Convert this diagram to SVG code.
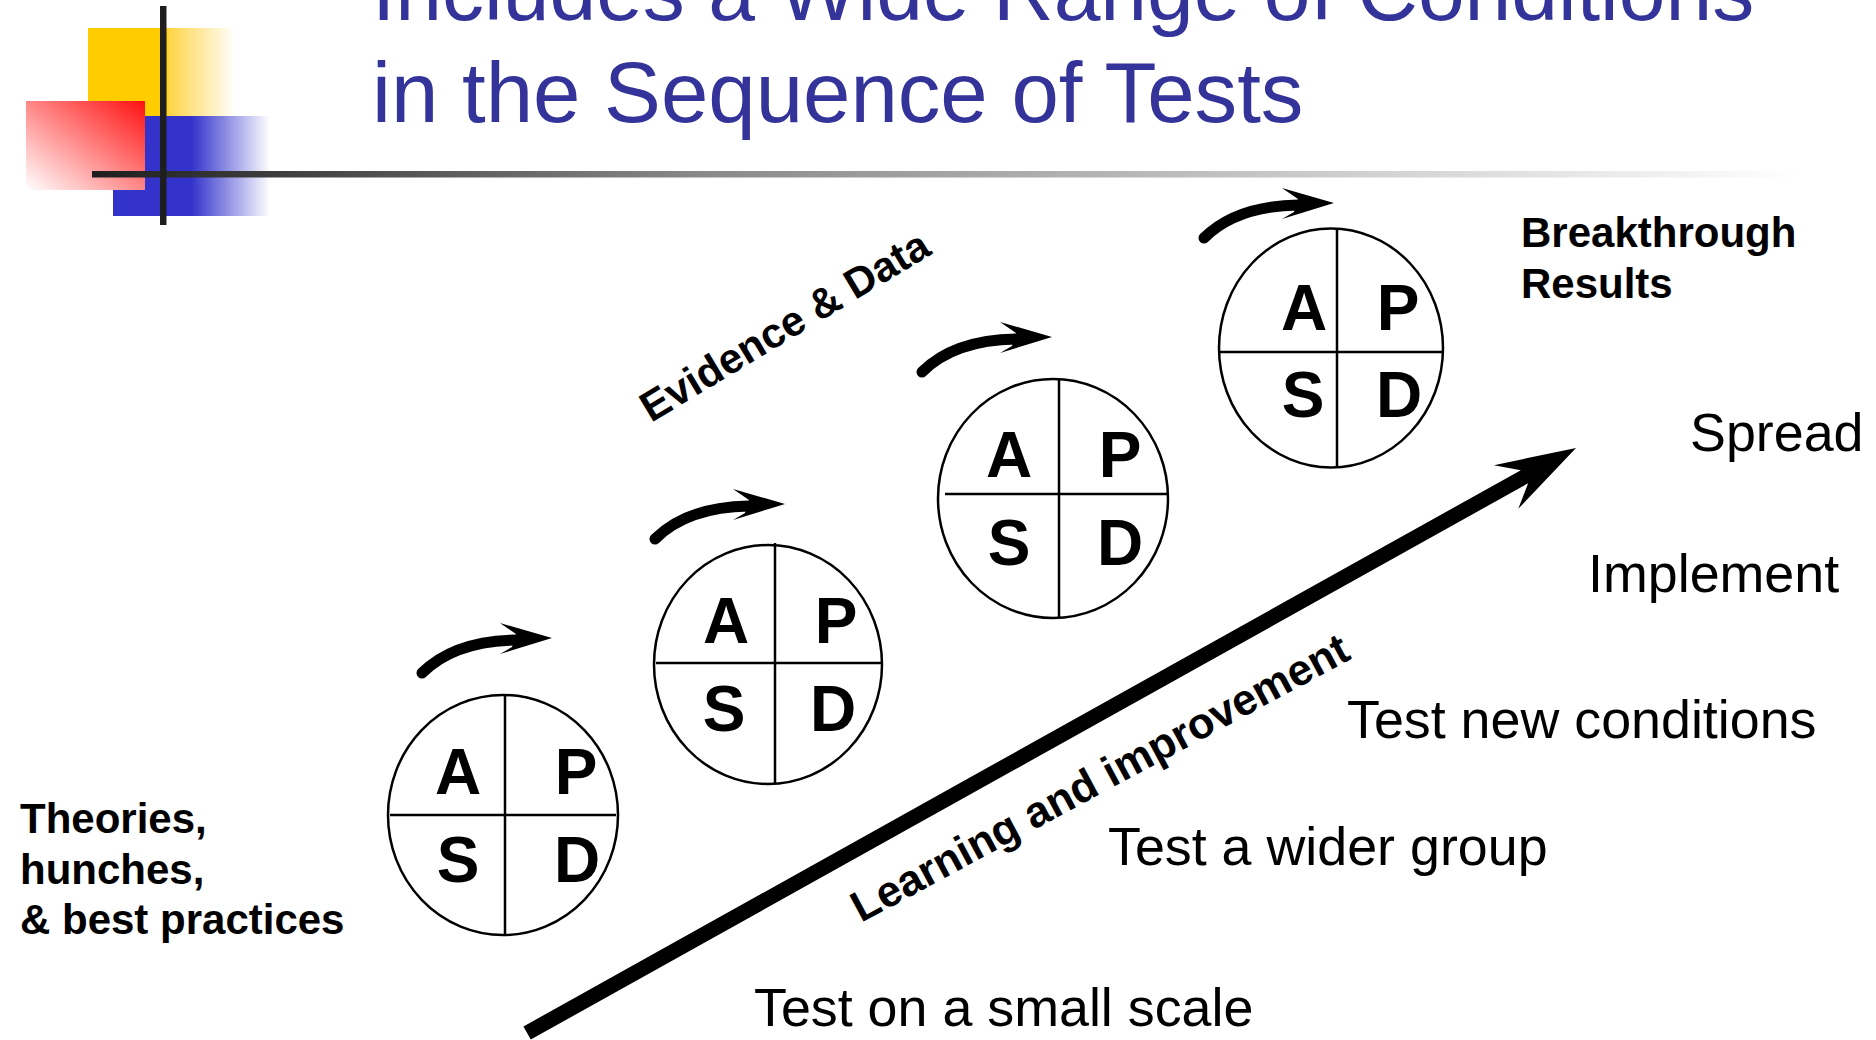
<svg xmlns="http://www.w3.org/2000/svg" width="1876" height="1040" viewBox="0 0 1876 1040">
<defs>
<style>
.title{font-family:"Liberation Sans",Arial,sans-serif;font-size:84px;fill:#333399}
.b42{font-family:"Liberation Sans",Arial,sans-serif;font-size:42px;font-weight:bold;fill:#000}
.r53{font-family:"Liberation Sans",Arial,sans-serif;font-size:53.8px;fill:#000}
.q{font-family:"Liberation Sans",Arial,sans-serif;font-size:64px;font-weight:bold;fill:#000;text-anchor:middle}
.ring{fill:#fff;stroke:#000;stroke-width:2.5}
.div{stroke:#000;stroke-width:2.5}
.shaft{fill:none;stroke:#000;stroke-width:11;stroke-linecap:round}
</style>
<linearGradient id="gy" gradientUnits="userSpaceOnUse" x1="88" y1="0" x2="235" y2="0">
<stop offset="0" stop-color="#ffcc00"/><stop offset="0.52" stop-color="#ffcc00"/><stop offset="0.56" stop-color="#ffd54a"/><stop offset="1" stop-color="#ffffff"/>
</linearGradient>
<linearGradient id="gb" gradientUnits="userSpaceOnUse" x1="113" y1="0" x2="270" y2="0">
<stop offset="0" stop-color="#3333cc"/><stop offset="0.5" stop-color="#3333cc"/><stop offset="1" stop-color="#ffffff"/>
</linearGradient>
<linearGradient id="gr" x1="1" y1="0" x2="0" y2="1">
<stop offset="0" stop-color="#ff1010"/><stop offset="1" stop-color="#ffffff"/>
</linearGradient>
<linearGradient id="gl" gradientUnits="userSpaceOnUse" x1="92" y1="0" x2="1800" y2="0">
<stop offset="0" stop-color="#1e1e1e"/><stop offset="0.36" stop-color="#8a8a8a"/><stop offset="1" stop-color="#ffffff"/>
</linearGradient>
<g id="curl">
<path class="shaft" d="M-130,35 Q-98,3 -36,2"/>
<polygon points="0,0 -52,-15 -36,-4 -40,9 -52,16" fill="#000"/>
</g>
</defs>
<rect width="1876" height="1040" fill="#fff"/>

<g id="decoration">
<rect x="88" y="28" width="147" height="88" fill="url(#gy)"/>
<rect x="113" y="116" width="157" height="100" fill="url(#gb)"/>
<rect x="26" y="101" width="119" height="89" fill="url(#gr)"/>
<rect x="92" y="171" width="1708" height="6.5" fill="url(#gl)"/>
<rect x="160" y="6" width="6.5" height="219" fill="#1e1e1e"/>
</g>

<g id="title">
<text class="title" x="372" y="20">Includes a Wide Range of Conditions</text>
<text class="title" x="372" y="122" style="font-size:85.2px">in the Sequence of Tests</text>
</g>

<g id="connectors">
<use href="#curl" transform="translate(552,638)"/>
<use href="#curl" transform="translate(785,504)"/>
<use href="#curl" transform="translate(1052,337)"/>
<use href="#curl" transform="translate(1334,203)"/>
<polygon transform="translate(1576,448) rotate(-29.15)" points="0,0 -80,-25 -59,-7.5 -1201,-7.5 -1201,7.5 -59,7.5 -80,25" fill="#000"/>
</g>

<g id="pdsa1">
<ellipse class="ring" cx="503" cy="815" rx="115" ry="120"/>
<line class="div" x1="505" y1="695" x2="505" y2="935"/>
<line class="div" x1="390" y1="815" x2="616" y2="815"/>
<text class="q" x="458" y="794">A</text><text class="q" x="576" y="794">P</text>
<text class="q" x="458" y="882">S</text><text class="q" x="577" y="882">D</text>
</g>

<g id="pdsa2">
<ellipse class="ring" cx="768" cy="664.5" rx="114" ry="119.5"/>
<line class="div" x1="775" y1="543" x2="775" y2="784"/>
<line class="div" x1="656" y1="663" x2="881" y2="663"/>
<text class="q" x="726" y="643">A</text><text class="q" x="836" y="643">P</text>
<text class="q" x="724" y="731">S</text><text class="q" x="833" y="731">D</text>
</g>

<g id="pdsa3">
<ellipse class="ring" cx="1053" cy="498.5" rx="115" ry="119.5"/>
<line class="div" x1="1059" y1="379" x2="1059" y2="618"/>
<line class="div" x1="945" y1="494" x2="1168" y2="494"/>
<text class="q" x="1009" y="477">A</text><text class="q" x="1120" y="477">P</text>
<text class="q" x="1009" y="565">S</text><text class="q" x="1120" y="565">D</text>
</g>

<g id="pdsa4">
<ellipse class="ring" cx="1331" cy="348" rx="112" ry="119.5"/>
<line class="div" x1="1337" y1="229" x2="1337" y2="468"/>
<line class="div" x1="1220" y1="352" x2="1443" y2="352"/>
<text class="q" x="1304" y="330">A</text><text class="q" x="1398" y="330">P</text>
<text class="q" x="1303" y="417">S</text><text class="q" x="1399" y="417">D</text>
</g>

<g id="theories">
<text class="b42" x="20" y="833">Theories,</text>
<text class="b42" x="20" y="884">hunches,</text>
<text class="b42" x="20" y="934">&amp; best practices</text>
</g>

<g id="breakthrough">
<text class="b42" x="1521" y="247">Breakthrough</text>
<text class="b42" x="1521" y="298">Results</text>
</g>

<g id="evidence">
<text class="b42" transform="translate(651,423) rotate(-31)" style="font-size:42px">Evidence &amp; Data</text>
</g>

<g id="learning">
<text class="b42" transform="translate(861,923) rotate(-28.3)" style="font-size:43.5px">Learning and improvement</text>
</g>

<g id="steps">
<text class="r53" x="1690" y="451">Spread</text>
<text class="r53" x="1588" y="592">Implement</text>
<text class="r53" x="1347" y="738">Test new conditions</text>
<text class="r53" x="1108" y="865">Test a wider group</text>
<text class="r53" x="754" y="1026">Test on a small scale</text>
</g>
</svg>
